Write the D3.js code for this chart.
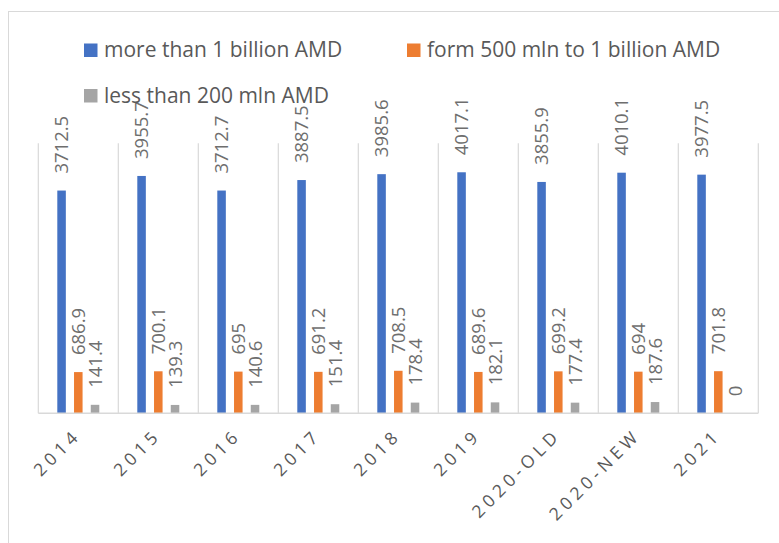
<!DOCTYPE html>
<html>
<head>
<meta charset="utf-8">
<script src="https://cdn.jsdelivr.net/npm/d3@7"></script>
<style>
  html, body { margin: 0; padding: 0; background: #fff; }
  svg { display: block; }
  text { font-family: "Open Sans", "Noto Sans", sans-serif; }
</style>
</head>
<body>
<svg id="chart" width="779" height="543"></svg>
<script>
const categories = ["2014", "2015", "2016", "2017", "2018", "2019", "2020-OLD", "2020-NEW", "2021"];
const seriesNames = ["more than 1 billion AMD", "form 500 mln to 1 billion AMD", "less than 200 mln AMD"];
const moreThan1Billion = [3712.5, 3955.7, 3712.7, 3887.5, 3985.6, 4017.1, 3855.9, 4010.1, 3977.5];
const from500mlnTo1Billion = [686.9, 700.1, 695, 691.2, 708.5, 689.6, 699.2, 694, 701.8];
const lessThan200mln = [141.4, 139.3, 140.6, 151.4, 178.4, 182.1, 177.4, 187.6, 0];
const colors = ["#4472C4", "#ED7D31", "#A5A5A5"];
const yMax = 4500;

const seriesValues = [moreThan1Billion, from500mlnTo1Billion, lessThan200mln];

const svg = d3.select("#chart");
const W = 779, H = 543;
svg.append("rect").attr("width", W).attr("height", H).attr("fill", "#fff");

// chart frame (clipped by the picture on right and bottom)
svg.append("rect")
  .attr("x", 8.5).attr("y", 11.5).attr("width", 900).attr("height", 700)
  .attr("fill", "none").attr("stroke", "#d9d9d9").attr("stroke-width", 1);

const plot = { left: 38.3, right: 758.3, top: 143.3, bottom: 413.3 };

const x = d3.scaleBand().domain(categories).range([plot.left, plot.right]).padding(0);
const bw = x.bandwidth();
const x1 = d3.scaleBand().domain(d3.range(seriesNames.length))
  .range([bw * 0.2375, bw * 0.7625]).paddingInner(0.49).paddingOuter(0);
const y = d3.scaleLinear().domain([0, yMax]).range([plot.bottom, plot.top]);

// vertical category separators
const bounds = categories.map(c => x(c)).concat([x.range()[1]]);
svg.append("g").selectAll("line").data(bounds).join("line")
  .attr("x1", d => d).attr("x2", d => d)
  .attr("y1", y(yMax)).attr("y2", y(0))
  .attr("stroke", "#d9d9d9").attr("stroke-width", 1.2);

// bars
const groups = svg.append("g").selectAll("g").data(categories).join("g")
  .attr("transform", c => `translate(${x(c)},0)`);

groups.each(function(c, i) {
  const g = d3.select(this);
  seriesValues.forEach((vals, s) => {
    const v = vals[i];
    g.append("rect")
      .attr("x", x1(s)).attr("width", x1.bandwidth())
      .attr("y", y(v)).attr("height", y(0) - y(v))
      .attr("fill", colors[s]);
  });
});

// baseline axis
svg.append("line")
  .attr("x1", plot.left).attr("x2", plot.right)
  .attr("y1", y(0)).attr("y2", y(0))
  .attr("stroke", "#d9d9d9").attr("stroke-width", 1.5);

// legend
const legendItems = [
  { i: 0, x: 84, y: 57 },
  { i: 1, x: 407, y: 57 },
  { i: 2, x: 84, y: 102.5 }
];
const legend = svg.append("g");
legendItems.forEach(it => {
  legend.append("rect")
    .attr("x", it.x).attr("y", it.y - 13.5).attr("width", 13.5).attr("height", 13.5)
    .attr("fill", colors[it.i]);
  legend.append("text")
    .attr("x", it.x + 20).attr("y", it.y)
    .attr("font-size", 21).attr("fill", "#595959")
    .text(seriesNames[it.i]);
});

// data labels
const labelSize = 18.5;
groups.each(function(c, i) {
  const g = d3.select(this);
  seriesValues.forEach((vals, s) => {
    const v = vals[i];
    const cx = x1(s) + x1.bandwidth() / 2 + labelSize * 0.36;
    const cy = y(v) - 17;
    g.append("text")
      .attr("transform", `translate(${cx},${cy}) rotate(-90)`)
      .attr("font-size", labelSize).attr("fill", "#6e6e6e")
      .attr("text-anchor", "start")
      .text(String(v));
  });
});

// x axis labels
const ls = 4.5;
svg.append("g").selectAll("text").data(categories).join("text")
  .attr("transform", c => `translate(${x(c) + bw / 2 + 0.5},${y(0) + 26}) rotate(-45)`)
  .attr("x", ls)
  .attr("text-anchor", "end")
  .attr("font-size", 17.5).attr("fill", "#595959")
  .attr("letter-spacing", ls)
  .text(c => c);
</script>
</body>
</html>
